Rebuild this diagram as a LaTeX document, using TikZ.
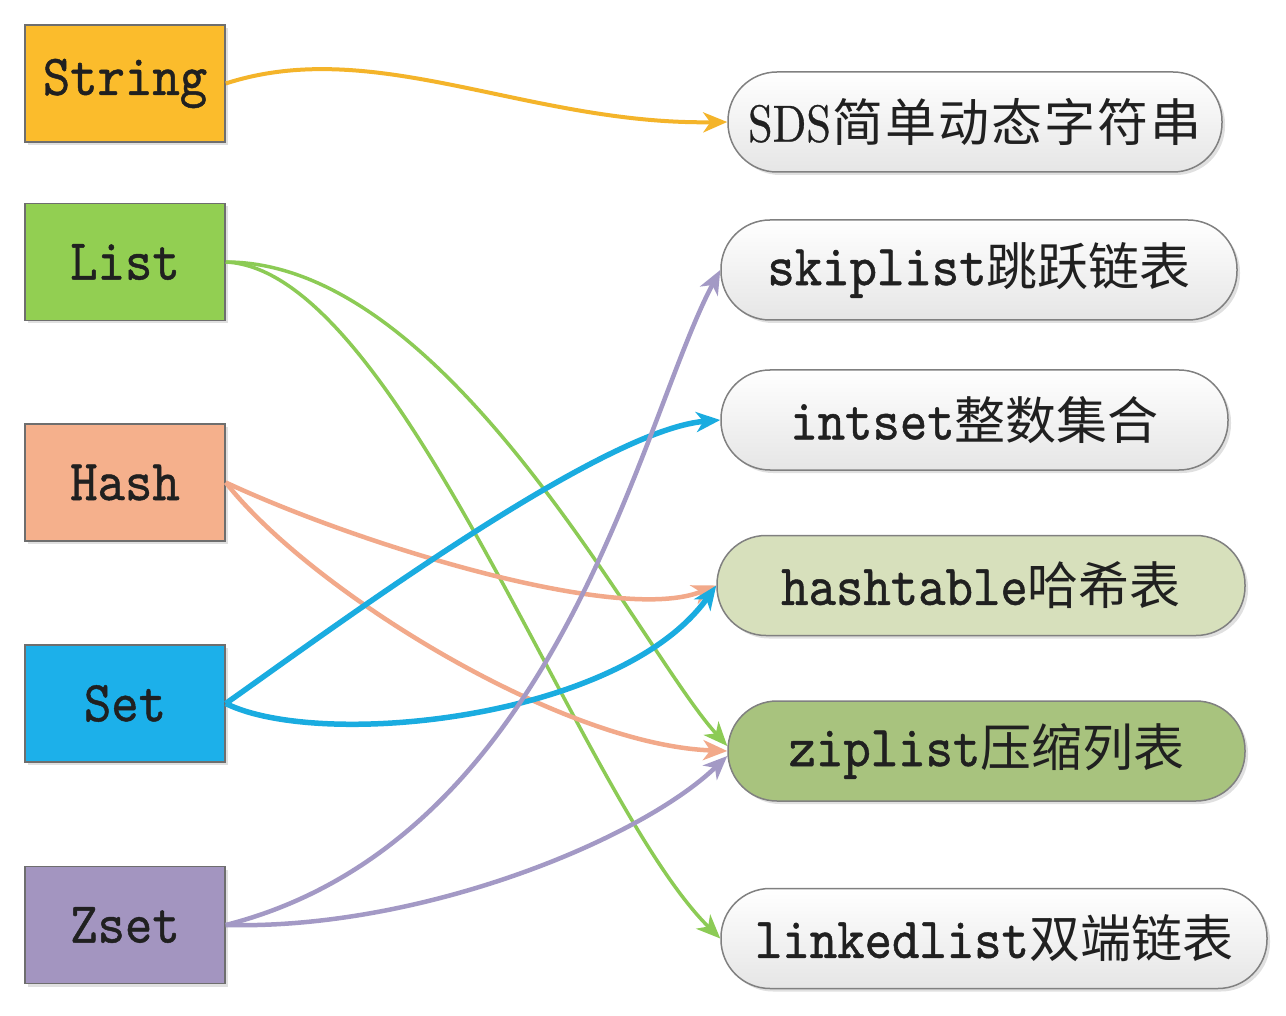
\documentclass[tikz,border=0pt]{standalone}
\usepackage{fontspec}
\newfontfamily\monoF[FakeStretch=0.9,FakeBold=0.8]{lmmono10-regular.otf}
\newfontfamily\sdsF[FakeStretch=0.85,FakeBold=0.6]{lmroman10-regular.otf}
\newfontfamily\cjkF{Noto Sans CJK SC}
\usetikzlibrary{arrows.meta,shadows}
\definecolor{cString}{HTML}{FBBC2C}
\definecolor{cList}{HTML}{92CF52}
\definecolor{cHash}{HTML}{F5B08C}
\definecolor{cSet}{HTML}{1CB0EA}
\definecolor{cZset}{HTML}{A395C0}
\definecolor{lYel}{HTML}{F4B42A}
\definecolor{lGrn}{HTML}{8CCB55}
\definecolor{lOrg}{HTML}{F2A98A}
\definecolor{lBlu}{HTML}{1AACE0}
\definecolor{lPur}{HTML}{A399C5}
\definecolor{boxline}{HTML}{6E6E6E}
\definecolor{encline}{HTML}{808080}
\definecolor{txt}{HTML}{202020}
\definecolor{fHT}{HTML}{D7E0BC}
\definecolor{fZip}{HTML}{A8C37E}
\newcommand\cn[2]{{\cjkF\fontsize{#1}{#1}\selectfont #2}}
\tikzset{
  typebox/.style={draw=boxline, line width=1.5pt, minimum width=200pt, minimum height=117pt,
    inner sep=0pt, text=txt, font=\monoF\fontsize{58}{60}\selectfont,
    drop shadow={shadow xshift=3pt, shadow yshift=-3pt, fill=black, opacity=0.12}},
  encbox/.style={draw=encline, line width=1.5pt, rounded corners=49pt, minimum height=100pt,
    inner sep=0pt, text=txt, font=\monoF\fontsize{58}{60}\selectfont,
    drop shadow={shadow xshift=3pt, shadow yshift=-3pt, fill=black, opacity=0.12}},
  greyfill/.style={top color=white, bottom color=black!10},
  link/.style={-{Stealth[length=24pt,width=20pt,inset=7pt]}, line width=4pt},
}
\begin{document}
\begin{tikzpicture}[x=1pt,y=-1pt]
\fill[white] (0,0) rectangle (1286,1016);
\useasboundingbox (0,0) rectangle (1286,1016);
% left type boxes
\node[typebox, fill=cString] (str) at (125,83.5) {String};
\node[typebox, fill=cList]   (lst) at (125,262) {List};
\node[typebox, fill=cHash]   (hsh) at (125,482.5) {Hash};
\node[typebox, fill=cSet]    (set) at (125,703.5) {Set};
\node[typebox, fill=cZset]   (zst) at (125,925) {Zset};
% right encoding boxes
\node[encbox, greyfill, minimum width=494pt] (sds) at (975,122) {{\sdsF\fontsize{52}{52}\selectfont SDS}\cn{51}{\kern2pt 简\kern2pt 单\kern2pt 动\kern2pt 态\kern2pt 字\kern2pt 符\kern2pt 串}};
\node[encbox, greyfill, minimum width=516pt] (skp) at (979,270) {skiplist\cn{51}{跳跃链表}};
\node[encbox, greyfill, minimum width=507pt] (ints) at (974.5,420) {intset\cn{51}{整数集合}};
\node[encbox, fill=fHT, minimum width=528pt] (ht) at (981,585.5) {hashtable\cn{51}{哈希表}};
\node[encbox, fill=fZip, minimum width=517pt] (zip) at (986.5,751) {ziplist\cn{51}{压缩列表}};
\node[encbox, greyfill, minimum width=546pt] (lnk) at (994,938.5) {linkedlist\cn{51}{双端链表}};
% connectors
\draw[link, lYel] (str.east) .. controls (375,35) and (528,125) .. (sds.west);
\draw[link, lGrn, line width=3.5pt] (lst.east) .. controls (450,262) and (640,650) .. ([yshift=5pt]zip.west);
\draw[link, lGrn, line width=3.5pt] (lst.east) .. controls (400,270) and (580,800) .. (lnk.west);
\draw[link, lOrg, line width=4.5pt] (hsh.east) .. controls (360,545) and (620,625) .. (ht.west);
\draw[link, lOrg, line width=4.5pt] (hsh.east) .. controls (310,590) and (560,745) .. (zip.west);
\draw[link, lBlu, line width=5.5pt] (set.east) .. controls (330,630) and (600,430) .. (ints.west);
\draw[link, lBlu, line width=5.5pt] (set.east) .. controls (320,750) and (620,720) .. (ht.west);
\draw[link, lPur, line width=4.5pt] (zst.east) .. controls (560,840) and (640,420) .. (skp.west);
\draw[link, lPur, line width=4.5pt] (zst.east) .. controls (420,930) and (640,840) .. ([yshift=-5pt]zip.west);
\end{tikzpicture}
\end{document}
